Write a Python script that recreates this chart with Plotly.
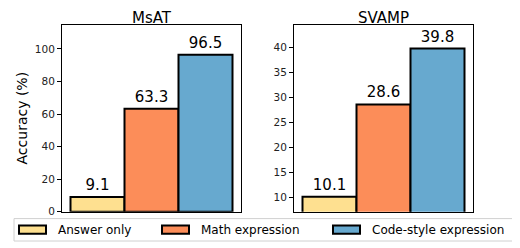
import plotly.graph_objects as go

datasets = ["MsAT", "SVAMP"]
methods = ["Answer only", "Math expression", "Code-style expression"]
msat_values = [9.1, 63.3, 96.5]
svamp_values = [10.1, 28.6, 39.8]
colors = ["#FEE090", "#FC8D59", "#67A9CF"]
msat_ticks = [0, 20, 40, 60, 80, 100]
svamp_ticks = [10, 15, 20, 25, 30, 35, 40]

FONT = "DejaVu Sans"
# page has an 8px body margin: figure occupies page pixels 8..520 / 8..248
OFF = 8
W, H = 520 - OFF, 248 - OFF


def px(x):
    return (x - OFF) / W


def py(y):
    return 1 - (y - OFF) / H


fig = go.Figure()
for i, m in enumerate(methods):
    fig.add_trace(go.Bar(
        x=[datasets[0]], y=[msat_values[i]], name=m, xaxis="x", yaxis="y",
        marker=dict(color=colors[i], line=dict(color="black", width=2)),
        text=[f"{msat_values[i]:.1f}"], textposition="outside", cliponaxis=False,
        textfont=dict(size=15, color="black", family=FONT), showlegend=False))
    fig.add_trace(go.Bar(
        x=[datasets[1]], y=[svamp_values[i]], name=m, xaxis="x2", yaxis="y2",
        marker=dict(color=colors[i], line=dict(color="black", width=2)),
        text=[f"{svamp_values[i]:.1f}"], textposition="outside", cliponaxis=False,
        textfont=dict(size=15, color="black", family=FONT), showlegend=False))

axis_common = dict(showline=True, linecolor="black", linewidth=1, mirror=True,
                   showgrid=False, zeroline=False)

# custom legend (matplotlib-style wide patches)
shapes = [dict(type="rect", xref="paper", yref="paper", x0=px(14), x1=px(524),
               y0=py(247), y1=py(224), line=dict(color="#d0d0d0", width=1),
               fillcolor="white", layer="above")]
annotations = []
patch_x = [19, 162, 333]
for i, m in enumerate(methods):
    x0 = patch_x[i]
    shapes.append(dict(type="rect", xref="paper", yref="paper", x0=px(x0), x1=px(x0 + 27),
                       y0=py(239.5), y1=py(231), line=dict(color="black", width=2),
                       fillcolor=colors[i], layer="above"))
    annotations.append(dict(text=m, x=px(x0 + 37), y=py(235.5), xref="paper", yref="paper",
                            xanchor="left", yanchor="middle", showarrow=False,
                            font=dict(size=12, family=FONT, color="black")))

annotations += [
    dict(text=datasets[0], x=px((62 + 241) / 2), y=1, xref="paper", yref="paper",
         xanchor="center", yanchor="top", showarrow=False, font=dict(size=15), borderpad=0),
    dict(text=datasets[1], x=px((294 + 473) / 2), y=1, xref="paper", yref="paper",
         xanchor="center", yanchor="top", showarrow=False, font=dict(size=15), borderpad=0),
]

fig.update_layout(
    width=W, height=H, margin=dict(l=0, r=0, t=0, b=0),
    paper_bgcolor="white", plot_bgcolor="white",
    font=dict(family=FONT, color="black"),
    barmode="group", bargap=0.095, bargroupgap=0, showlegend=False,
    xaxis=dict(domain=[px(62), px(241)], anchor="y", showticklabels=False, ticks="", **axis_common),
    yaxis=dict(domain=[py(217), py(25)], anchor="x", range=[0, 115],
               tickvals=msat_ticks, ticks="outside", ticklen=4, tickcolor="black",
               tickfont=dict(size=10.5, color="#222"),
               title=dict(text="Accuracy (%)", font=dict(size=14), standoff=3), **axis_common),
    xaxis2=dict(domain=[px(294), px(473)], anchor="y2", showticklabels=False, ticks="", **axis_common),
    yaxis2=dict(domain=[py(217), py(25)], anchor="x2", range=[7.07, 44.6],
                tickvals=svamp_ticks, ticks="outside", ticklen=4, tickcolor="black",
                tickfont=dict(size=10.5, color="#222"), **axis_common),
    shapes=shapes,
    annotations=annotations,
)
fig.write_html("out.html")
